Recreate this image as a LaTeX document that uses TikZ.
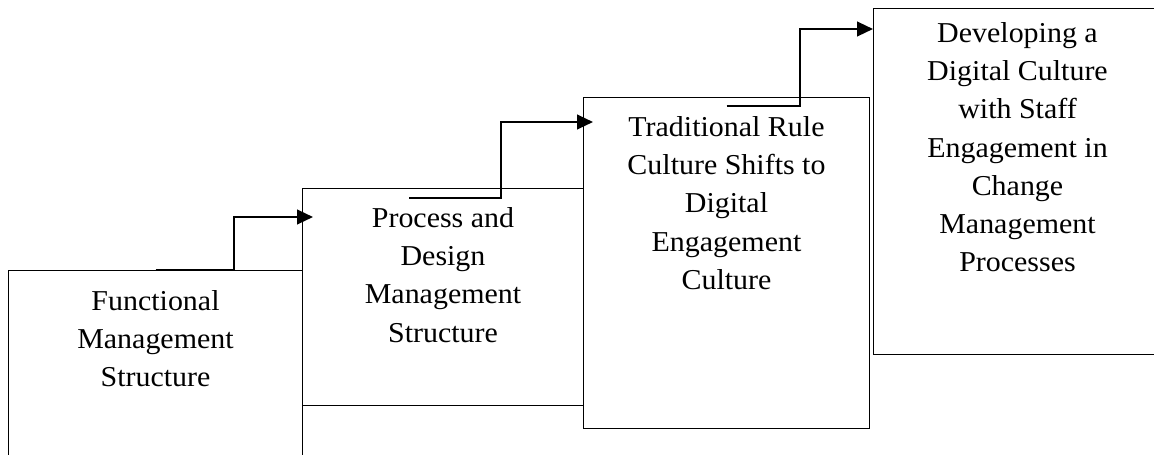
\documentclass[tikz,border=0pt]{standalone}
\usepackage{fontspec}
\setmainfont{Liberation Serif}[FakeStretch=1.04]
\usetikzlibrary{arrows.meta, calc}
\tikzstyle{stage} = [rectangle, draw=black, line width=0.75pt, anchor=north west, inner sep=0pt]
\tikzstyle{stagetext} = [anchor=north, align=center, inner sep=0pt, font=\fontsize{21.6}{28.7}\selectfont]
\tikzstyle{arrow} = [line width=1.7pt, -{Triangle[length=12pt, width=11pt]}]

\begin{document}
\begin{tikzpicture}[x=0.75pt, y=-0.75pt] % 1 unit = 1 px of the reference
\useasboundingbox (0,0) rectangle (1154,454);
\clip (0,0) rectangle (1154,454);

% Boxes
\node (functional) [stage, minimum width=220.5pt, minimum height=150pt] at (8,270) {};
\node (process) [stage, minimum width=210.75pt, minimum height=162.75pt] at (302,188) {};
\node (traditional) [stage, minimum width=214.5pt, minimum height=248.25pt] at (583,97) {};
\node (digital) [stage, minimum width=216pt, minimum height=259.5pt] at (873,8) {};

% Texts
\node (functionaltext) [stagetext] at ([yshift=-15pt]functional.north) {Functional\\Management\\Structure};
\node (processtext) [stagetext] at ([yshift=-14.25pt]process.north) {Process and\\Design\\Management\\Structure};
\node (traditionaltext) [stagetext] at ([yshift=-14.25pt]traditional.north) {Traditional Rule\\Culture Shifts to\\Digital\\Engagement\\Culture};
\node (digitaltext) [stagetext] at ([yshift=-10.5pt]digital.north) {Developing a\\Digital Culture\\with Staff\\Engagement in\\Change\\Management\\Processes};

% Step arrows
\coordinate (s1) at (functional.north);
\coordinate (t1) at ([xshift=8.25pt, yshift=-21.75pt]process.north west);
\coordinate (s2) at ([xshift=-25.5pt, yshift=-7.5pt]process.north);
\coordinate (t2) at ([xshift=7.5pt, yshift=-18.75pt]traditional.north west);
\coordinate (s3) at ([yshift=-6.75pt]traditional.north);
\coordinate (t3) at ([yshift=-15.75pt]digital.north west);

\draw [arrow] (s1) -| ($(s1)!0.5!(t1)$) |- (t1);
\draw [arrow] (s2) -| ($(s2)!0.5!(t2)$) |- (t2);
\draw [arrow] (s3) -| ($(s3)!0.5!(t3)$) |- (t3);

\end{tikzpicture}
\end{document}
